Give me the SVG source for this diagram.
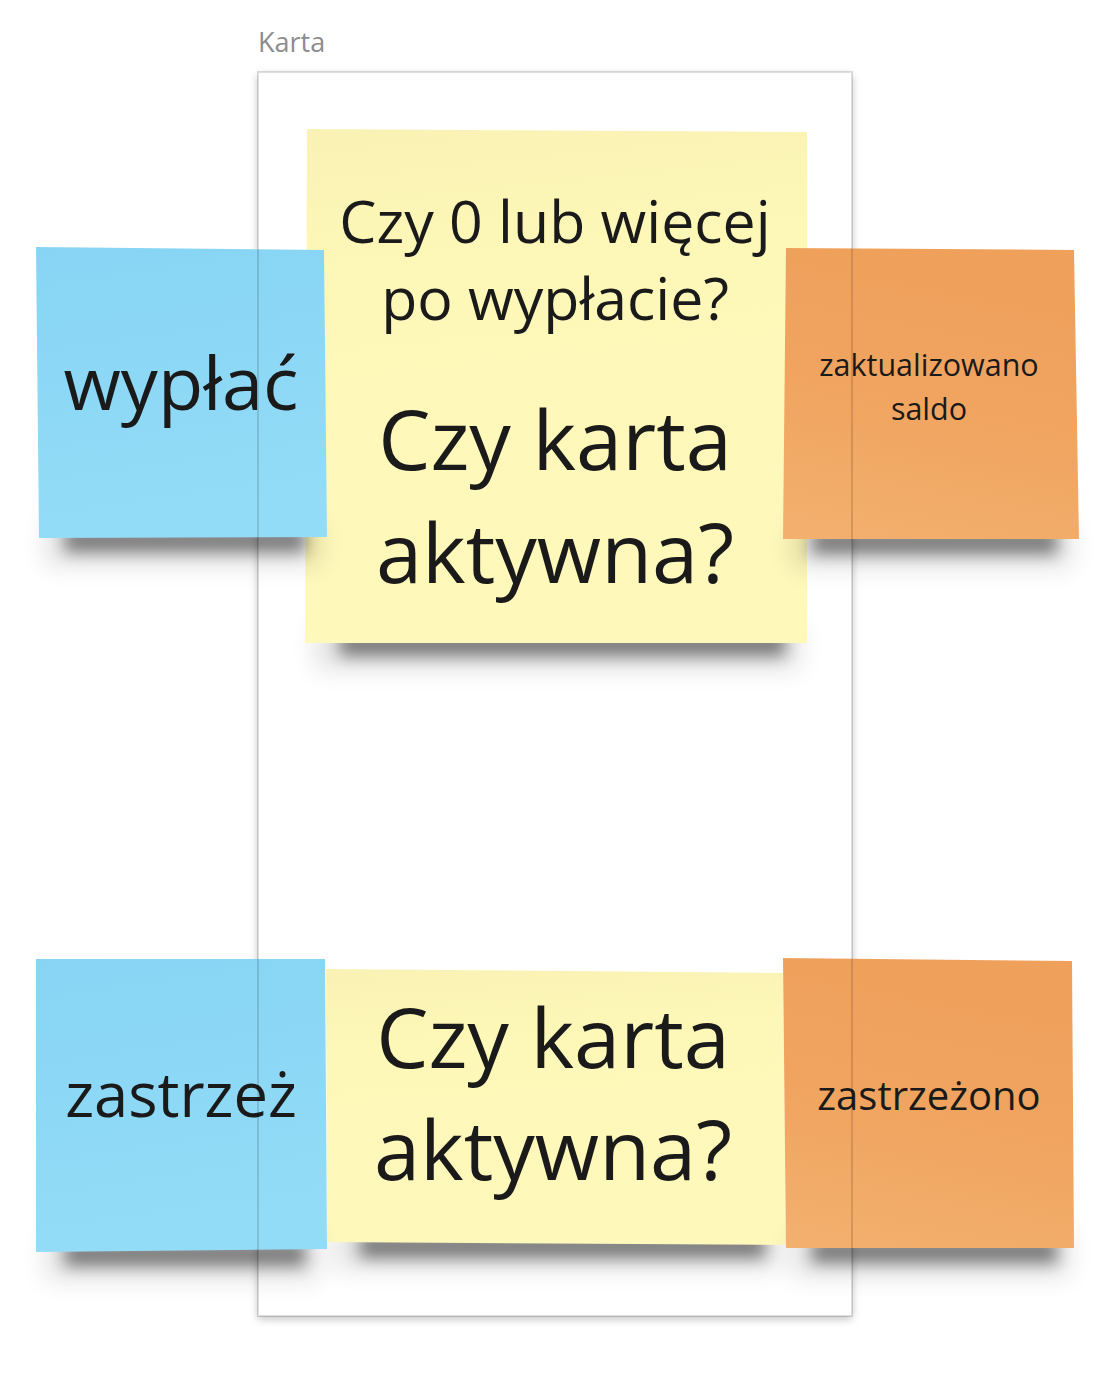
<svg xmlns="http://www.w3.org/2000/svg" width="1118" height="1386" viewBox="0 0 1118 1386">
<style>
  text { font-family: "Open Sans", "Noto Sans", "Liberation Sans", sans-serif; fill: #1a1a1a; text-anchor: middle; }
  .label { fill: #8c8c8c; text-anchor: start; font-size: 27px; }
  .sh1 { fill: #000; opacity: 0.46; filter: url(#blurA); }
  .sh2 { fill: #000; opacity: 0.11; filter: url(#blurB); }
  .blue { fill: url(#gBlue); }
  .yellow { fill: url(#gYellow); }
  .orange { fill: url(#gOrange); }
</style>
<defs>
  <filter id="blurA" x="-20%" y="-150%" width="140%" height="400%"><feGaussianBlur stdDeviation="8"/></filter>
  <filter id="blurB" x="-20%" y="-150%" width="140%" height="400%"><feGaussianBlur stdDeviation="12"/></filter>
  <filter id="frameSh" x="-10%" y="-10%" width="120%" height="120%">
    <feGaussianBlur in="SourceAlpha" stdDeviation="4"/>
    <feOffset dx="0" dy="3" result="b"/>
    <feComponentTransfer><feFuncA type="linear" slope="0.25"/></feComponentTransfer>
    <feMerge><feMergeNode/><feMergeNode in="SourceGraphic"/></feMerge>
  </filter>
  <linearGradient id="gBlue" x1="0" y1="0" x2="0.15" y2="1">
    <stop offset="0" stop-color="#87d4f4"/>
    <stop offset="1" stop-color="#93dcf7"/>
  </linearGradient>
  <linearGradient id="gYellow" x1="0" y1="0" x2="0.1" y2="1">
    <stop offset="0" stop-color="#f9f2b4"/>
    <stop offset="0.3" stop-color="#fdf7b8"/>
    <stop offset="1" stop-color="#fef8bb"/>
  </linearGradient>
  <linearGradient id="gOrange" x1="0.2" y1="0" x2="0" y2="1">
    <stop offset="0" stop-color="#efa15c"/>
    <stop offset="0.45" stop-color="#f0a45f"/>
    <stop offset="1" stop-color="#f3b06f"/>
  </linearGradient>
</defs>

<rect width="1118" height="1386" fill="#ffffff"/>

<g id="frame-karta">
  <text class="label" x="258" y="52">Karta</text>
  <rect x="258" y="72" width="594" height="1244" fill="#ffffff" filter="url(#frameSh)"/>
</g>

<g id="connectors"/>

<g id="note-czy-saldo">
  <rect class="sh2" x="315" y="624" width="485" height="46"/>
  <rect class="sh1" x="340" y="632" width="445" height="24"/>
  <polygon class="yellow" points="307,129 807,132 807,643 305,643"/>
  <text x="555" y="243" font-size="59">Czy 0 lub więcej</text>
  <text x="555" y="320" font-size="59">po wypłacie?</text>
  <text x="555" y="470" font-size="83">Czy karta</text>
  <text x="555" y="583" font-size="83">aktywna?</text>
</g>

<g id="note-czy-aktywna">
  <rect class="sh2" x="335" y="1226" width="445" height="44"/>
  <rect class="sh1" x="360" y="1234" width="405" height="24"/>
  <polygon class="yellow" points="326,969 783,973 786,1245 327,1242"/>
  <text x="553" y="1068" font-size="83">Czy karta</text>
  <text x="553" y="1180" font-size="83">aktywna?</text>
</g>

<g id="note-wyplac">
  <rect class="sh2" x="45" y="520" width="275" height="46"/>
  <rect class="sh1" x="65" y="528" width="240" height="24"/>
  <polygon class="blue" points="36,247 324,250 327,537 39,538"/>
  <text x="181" y="410" font-size="74">wypłać</text>
</g>

<g id="note-zaktualizowano">
  <rect class="sh2" x="792" y="522" width="280" height="46"/>
  <rect class="sh1" x="812" y="530" width="245" height="24"/>
  <polygon class="orange" points="786,248 1074,250 1079,539 783,539"/>
  <text x="929" y="376" font-size="30.5">zaktualizowano</text>
  <text x="929" y="420" font-size="30.5">saldo</text>
</g>

<g id="note-zastrzez">
  <rect class="sh2" x="45" y="1234" width="275" height="46"/>
  <rect class="sh1" x="65" y="1242" width="240" height="24"/>
  <polygon class="blue" points="36,959 325,959 327,1249 36,1252"/>
  <text x="181" y="1117" font-size="61.5">zastrzeż</text>
</g>

<g id="note-zastrzezono">
  <rect class="sh2" x="792" y="1231" width="278" height="46"/>
  <rect class="sh1" x="812" y="1239" width="245" height="24"/>
  <polygon class="orange" points="783,958 1072,961 1074,1248 786,1248"/>
  <text x="929" y="1110" font-size="40">zastrzeżono</text>
</g>

<g id="frame-border">
  <rect x="258" y="72" width="594" height="1244" fill="none" stroke="#000" stroke-opacity="0.13" stroke-width="2"/>
</g>
</svg>
